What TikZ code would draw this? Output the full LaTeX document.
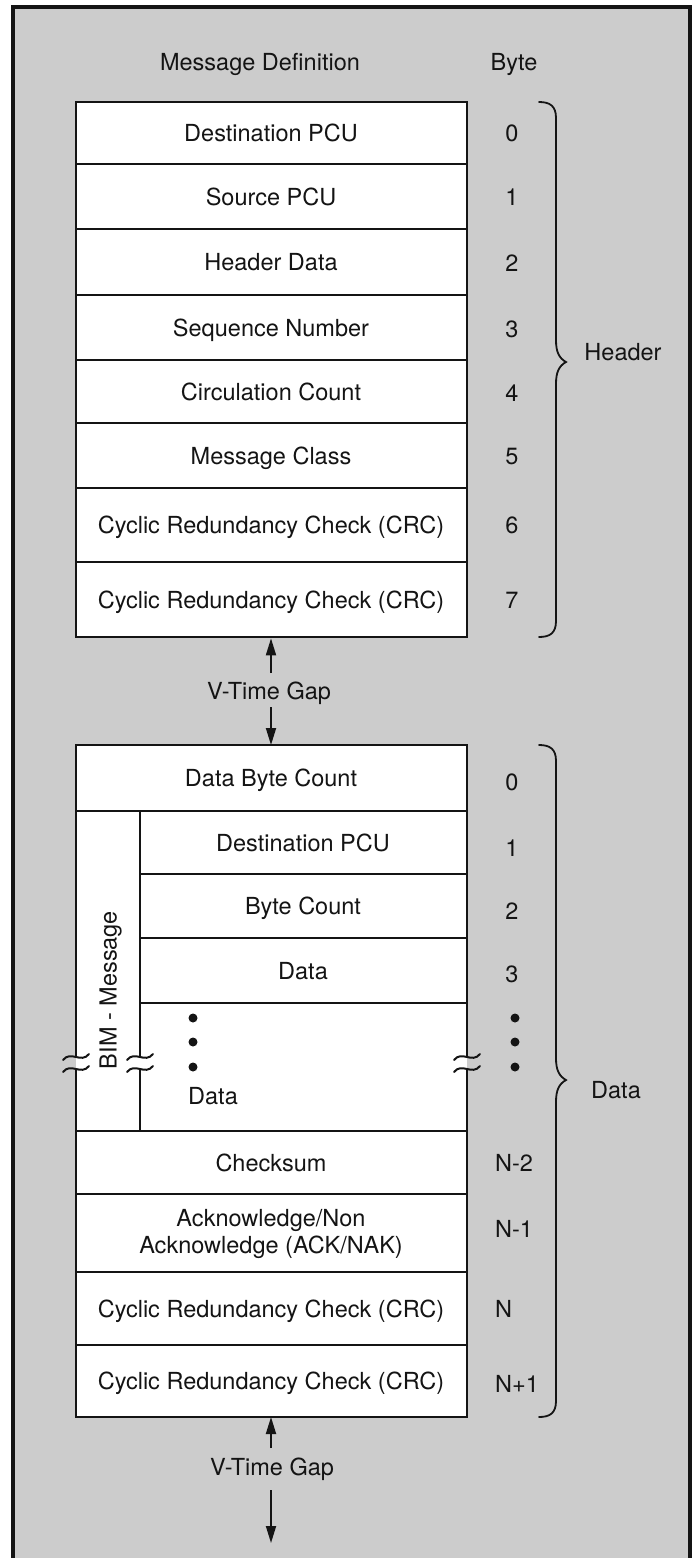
\documentclass[tikz,border=0pt]{standalone}
\usepackage{fontspec}
\setmainfont{TeX Gyre Heros}
\usetikzlibrary{arrows.meta}
\definecolor{bg}{gray}{0.80}
\definecolor{ink}{gray}{0.08}
\tikzset{
  lbl/.style={font=\fontsize{23.5}{27}\selectfont, text=ink, inner sep=0pt},
  txtc/.style={lbl, text height=17pt, text depth=0pt},
  rowline/.style={line width=1.7pt, draw=ink},
  boxline/.style={line width=2.7pt, draw=ink},
  boxnode/.style={draw=ink, fill=white, line width=2.7pt, inner sep=0pt},
  gaparrow/.style={line width=1.8pt, draw=ink, -{Triangle[length=17pt,width=10pt]}},
  bracepath/.style={line width=1.8pt, draw=ink, line cap=round},
  dotmark/.style={circle, fill=ink, inner sep=0pt, minimum size=9pt},
  breakmark/.style={line width=2pt, draw=ink, line cap=round},
}
\begin{document}
\begin{tikzpicture}[x=1pt,y=-1pt]
\useasboundingbox (0,0) rectangle (697,1558);
% background panel (open at the bottom)
\fill[bg] (13,7) rectangle (690,1558);
\draw[line width=3.3pt, ink] (13,1558) -- (13,7) -- (690,7) -- (690,1558);

% column titles
\node[txtc] (md) at (260,62) {Message Definition};
\node[txtc] (bt) at (514,62) {Byte};

% ---------------- header box ----------------
\node[boxnode, minimum width=391pt, minimum height=535pt] (hbox) at (271.5,369.5) {};
\foreach \y in {164,229,295,360,423,488,562}
  \draw[rowline] (76,\y) -- (467,\y);
\draw[boxline] (76,102) rectangle (467,637);

\node[txtc] (h0) at (271,133)   {Destination PCU};
\node[txtc] (h1) at (271,196.5) {Source PCU};
\node[txtc] (h2) at (271,262)   {Header Data};
\node[txtc] (h3) at (271,327.5) {Sequence Number};
\node[txtc] (h4) at (271,391.5) {Circulation Count};
\node[txtc] (h5) at (271,455.5) {Message Class};
\node[txtc] (h6) at (271,525)   {Cyclic Redundancy Check (CRC)};
\node[txtc] (h7) at (271,599.5) {Cyclic Redundancy Check (CRC)};

\node[txtc] (b0) at (512,133)   {0};
\node[txtc] (b1) at (512,197)   {1};
\node[txtc] (b2) at (512,263)   {2};
\node[txtc] (b3) at (512,329)   {3};
\node[txtc] (b4) at (512,393)   {4};
\node[txtc] (b5) at (512,455.5) {5};
\node[txtc] (b6) at (512,525)   {6};
\node[txtc] (b7) at (512,599.5) {7};

% header brace
\draw[bracepath] (539,102) .. controls (550,102) and (556,106) .. (556,118)
  -- (556,340) .. controls (556,352) and (559,358) .. (566,362)
  .. controls (559,366) and (556,372) .. (556,384)
  -- (556,621) .. controls (556,633) and (550,637) .. (539,637);
\node[txtc] (hdr) at (623,352) {Header};

% first gap
\node[txtc] (g1) at (269,691) {V-Time Gap};
\coordinate (g1up) at (271,673);
\coordinate (g1dn) at (271,707);
\coordinate (dtop) at (271,745);
\draw[gaparrow] (g1up) -- (g1up |- hbox.south);
\draw[gaparrow] (g1dn) -- (dtop);

% ---------------- data box ----------------
\fill[white] (76,745) rectangle (467,1417);
\foreach \y in {811,1131,1194,1272,1345}
  \draw[rowline] (76,\y) -- (467,\y);
\foreach \y in {874,938,1003}
  \draw[rowline] (140,\y) -- (467,\y);
\draw[rowline] (140,811) -- (140,1057);
\draw[rowline] (140,1069) -- (140,1131);
\draw[boxline] (76,1057) -- (76,745) -- (467,745) -- (467,1057);
\draw[boxline] (76,1069) -- (76,1417) -- (467,1417) -- (467,1069);
% break marks
\foreach \x in {76,140,467}
  \foreach \y in {1057,1069}
    \draw[breakmark] ({\x-13},{\y+3}) .. controls ({\x-5},{\y-7}) and ({\x+5},{\y+7}) .. ({\x+13},{\y-3});

\node[txtc] (d0) at (271,778)   {Data Byte Count};
\node[txtc] (d1) at (303,842.5) {Destination PCU};
\node[txtc] (d2) at (303,906)   {Byte Count};
\node[txtc] (d3) at (303,970.5) {Data};
\node[dotmark] (l1) at (193,1018) {};
\node[dotmark] (l2) at (193,1042) {};
\node[dotmark] (l3) at (193,1067) {};
\node[txtc] (d4) at (213,1096)  {Data};
\node[txtc] (d5) at (271,1162.5) {Checksum};
\node[lbl, align=center] (d6) at (271,1234) {Acknowledge/Non\\Acknowledge (ACK/NAK)};
\node[txtc] (d7) at (271,1308.5) {Cyclic Redundancy Check (CRC)};
\node[txtc] (d8) at (271,1381)   {Cyclic Redundancy Check (CRC)};
\node[txtc, rotate=90] (bim) at (108,990) {BIM - Message};

\node[txtc] (c0) at (512,782) {0};
\node[txtc] (c1) at (512,848) {1};
\node[txtc] (c2) at (512,911) {2};
\node[txtc] (c3) at (512,974) {3};
\node[dotmark] (r1) at (515,1018) {};
\node[dotmark] (r2) at (515,1042) {};
\node[dotmark] (r3) at (515,1067) {};
\node[txtc, anchor=west] (c4) at (495,1162.5) {N-2};
\node[txtc, anchor=west] (c5) at (495,1229)   {N-1};
\node[txtc, anchor=west] (c6) at (495,1309)   {N};
\node[txtc, anchor=west] (c7) at (495,1384)   {N+1};

% data brace
\draw[bracepath] (539,745) .. controls (550,745) and (556,749) .. (556,761)
  -- (556,1058) .. controls (556,1070) and (559,1076) .. (566,1080)
  .. controls (559,1084) and (556,1090) .. (556,1102)
  -- (556,1401) .. controls (556,1413) and (550,1417) .. (539,1417);
\node[txtc] (dlab) at (616,1090) {Data};

% second gap
\coordinate (dbot) at (271,1417);
\node[txtc] (g2) at (272,1467) {V-Time Gap};
\coordinate (g2up) at (271,1448);
\coordinate (g2dn) at (271,1490);
\coordinate (g2end) at (271,1543);
\draw[gaparrow] (g2up) -- (dbot);
\draw[gaparrow] (g2dn) -- (g2end);
\end{tikzpicture}
\end{document}
